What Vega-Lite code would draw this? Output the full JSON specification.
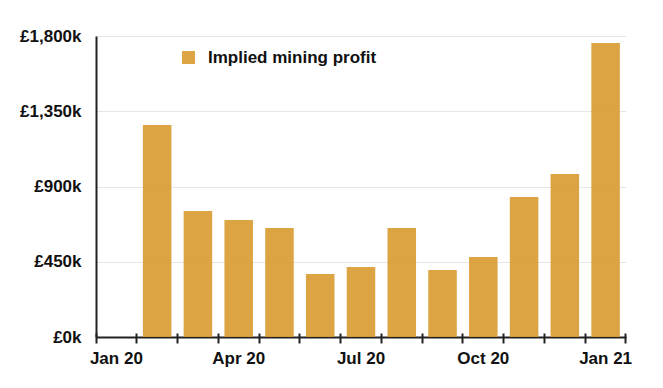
{
  "$schema": "https://vega.github.io/schema/vega-lite/v6.json",
  "width": 530,
  "height": 301,
  "autosize": {"type": "none"},
  "padding": {"left": 96, "top": 36, "right": 37, "bottom": 51},
  "background": "white",
  "config": {"view": {"stroke": null}, "font": "Liberation Sans"},
  "data": {
    "values": [
      {"month": "Feb 20", "profit": 1268},
      {"month": "Mar 20", "profit": 753},
      {"month": "Apr 20", "profit": 700},
      {"month": "May 20", "profit": 652},
      {"month": "Jun 20", "profit": 377},
      {"month": "Jul 20", "profit": 419},
      {"month": "Aug 20", "profit": 652},
      {"month": "Sep 20", "profit": 401},
      {"month": "Oct 20", "profit": 478},
      {"month": "Nov 20", "profit": 837},
      {"month": "Dec 20", "profit": 975},
      {"month": "Jan 21", "profit": 1758}
    ]
  },
  "layer": [
    {
      "mark": {"type": "bar", "width": {"band": 0.7}, "opacity": 0.9},
      "encoding": {
        "x": {
          "field": "month",
          "type": "ordinal",
          "sort": null,
          "scale": {
            "domain": ["Jan 20", "Feb 20", "Mar 20", "Apr 20", "May 20", "Jun 20", "Jul 20", "Aug 20", "Sep 20", "Oct 20", "Nov 20", "Dec 20", "Jan 21"],
            "paddingInner": 0,
            "paddingOuter": 0
          },
          "axis": {
            "title": null,
            "orient": "bottom",
            "bandPosition": 0,
            "labelAngle": 0,
            "labelAlign": "center",
            "labelOffset": 0,
            "labelOverlap": false,
            "labelBound": false,
            "labelExpr": "indexof(['Jan 20','Apr 20','Jul 20','Oct 20','Jan 21'], datum.value) >= 0 ? datum.value : ''",
            "labelFont": "Liberation Sans",
            "labelFontSize": 17,
            "labelFontWeight": "bold",
            "labelColor": "#111111",
            "labelPadding": 13,
            "ticks": false,
            "domainColor": "#222222",
            "domainWidth": 2,
            "grid": false
          }
        },
        "y": {
          "field": "profit",
          "type": "quantitative",
          "scale": {"domain": [0, 1800], "nice": false},
          "axis": {
            "title": null,
            "values": [0, 450, 900, 1350, 1800],
            "labelExpr": "'£' + format(datum.value, ',') + 'k'",
            "labelFont": "Liberation Sans",
            "labelFontSize": 17,
            "labelFontWeight": "bold",
            "labelColor": "#111111",
            "labelPadding": 15,
            "ticks": false,
            "domainColor": "#222222",
            "domainWidth": 2,
            "gridColor": "#e6e6e6",
            "gridWidth": 1
          }
        },
        "color": {
          "datum": "Implied mining profit",
          "scale": {"range": ["#D89A2E"]},
          "legend": {
            "orient": "none",
            "legendX": 84,
            "legendY": 13,
            "title": null,
            "padding": 0,
            "symbolType": "square",
            "symbolSize": 169,
            "symbolStrokeWidth": 0,
            "symbolOpacity": 0.9,
            "labelFont": "Liberation Sans",
            "labelFontSize": 17,
            "labelFontWeight": "bold",
            "labelColor": "#111111",
            "labelOffset": 11,
            "labelLimit": 400
          }
        }
      }
    },
    {
      "mark": {"type": "bar", "width": {"band": 0.7}, "opacity": 0},
      "encoding": {
        "x": {
          "field": "month",
          "type": "ordinal",
          "sort": null,
          "axis": {
            "title": null,
            "orient": "bottom",
            "bandPosition": 0,
            "offset": -4,
            "labels": false,
            "domain": false,
            "grid": false,
            "tickColor": "#222222",
            "tickWidth": 2,
            "tickSize": 10
          }
        },
        "y": {"field": "profit", "type": "quantitative"}
      }
    },
    {
      "mark": {"type": "bar", "width": {"band": 0.7}, "opacity": 0},
      "encoding": {
        "x": {
          "field": "month",
          "type": "ordinal",
          "sort": null,
          "axis": {
            "title": null,
            "orient": "bottom",
            "values": ["Jan 21"],
            "bandPosition": 1,
            "offset": -4,
            "labels": false,
            "domain": false,
            "grid": false,
            "tickColor": "#222222",
            "tickWidth": 2,
            "tickSize": 10
          }
        },
        "y": {"field": "profit", "type": "quantitative"}
      }
    }
  ],
  "resolve": {"axis": {"x": "independent"}}
}
